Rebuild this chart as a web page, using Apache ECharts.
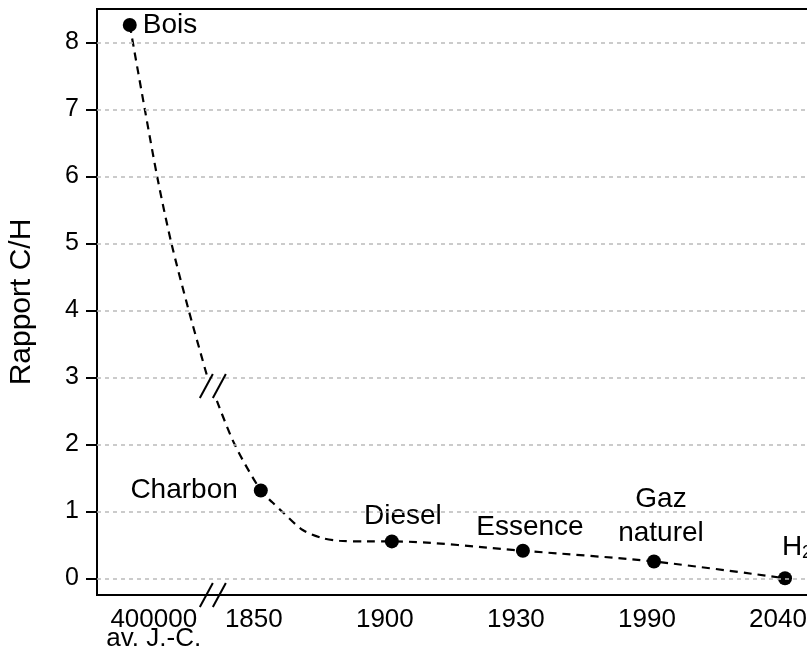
<!DOCTYPE html>
<html>
<head>
<meta charset="utf-8">
<script src="https://cdn.jsdelivr.net/npm/echarts@6/dist/echarts.min.js"></script>
<style>
  html, body { margin: 0; padding: 0; background: #fff; }
  #chart { width: 807px; height: 652px; }
</style>
</head>
<body>
<div id="chart"></div>
<script>
// combustibles, position sur l'axe (échelle coupée), rapport C/H
const fuels = ['Bois', 'Charbon', 'Diesel', 'Essence', 'Gaz\nnaturel', 'H2']
const fuelPos = [0, 1, 2, 3, 4, 5]
const ratio = [8.26, 1.31, 0.55, 0.41, 0.25, 0]
const yearLabels = ['400000\nav. J.-C.', '1850', '1900', '1930', '1990', '2040']
const yTicks = [0, 1, 2, 3, 4, 5, 6, 7, 8]
// courbe en tirets, coupée au niveau de la rupture d'échelle
const curveTop = [[0, 8.26], [0.115, 7.0], [0.214, 5.95], [0.318, 5.0], [0.45, 4.0], [0.59, 3.02]]
const curveBottom = [[0.665, 2.65], [0.8, 2.0], [1, 1.31], [1.09, 1.13], [1.16, 1.0], [1.32, 0.72],
  [1.47, 0.6], [1.6, 0.56], [1.81, 0.55], [2, 0.55], [3, 0.41], [4, 0.25], [5, 0]]
// marques "//" de rupture
const breakMarks = [[0.634, -0.25], [0.634, 2.87]]

const font = "'Liberation Sans', Arial, sans-serif"

// placement des étiquettes de points
const labelOpts = [
  { position: 'right', distance: 6 },
  { position: 'left', distance: 16 },
  { position: 'top', distance: 4, offset: [11, 0] },
  { position: 'top', distance: 3, offset: [7, 0] },
  { position: 'top', distance: 4, offset: [7, 0], lineHeight: 34 },
  { position: 'top', distance: 9, offset: [12, 0], formatter: '{h|H}{s|2}' }
]

const chart = echarts.init(document.getElementById('chart'))

const curveStyle = {
  type: 'line',
  smooth: 0.3,
  symbol: 'none',
  silent: true,
  z: 3,
  lineStyle: { color: '#000', width: 2.2, type: [8, 6] }
}

chart.setOption({
  animation: false,
  textStyle: { fontFamily: font },
  grid: {
    left: 97, top: 9, right: -5, bottom: 57,
    outerBoundsMode: 'none',
    containLabel: false,
    show: true, borderColor: '#000', borderWidth: 2
  },
  xAxis: {
    type: 'value',
    min: -0.25,
    max: 5.206,
    axisLine: { onZero: false, lineStyle: { color: '#000', width: 2 } },
    axisTick: { show: false },
    splitLine: { show: false },
    axisLabel: {
      customValues: fuelPos,
      color: '#000',
      fontSize: 26,
      lineHeight: 19,
      margin: 15,
      hideOverlap: false,
      formatter: v => {
        const i = Math.round(v)
        if (i === 0) {
          return yearLabels[0].split('\n').map(s => '{a|' + s + '}').join('\n')
        }
        return '{b|' + yearLabels[i] + '}'
      },
      rich: {
        a: { fontSize: 26, lineHeight: 19, padding: [0, 0, 0, 48], color: '#000' },
        b: { fontSize: 26, lineHeight: 19, padding: [0, 14, 0, 0], color: '#000' }
      }
    }
  },
  yAxis: {
    type: 'value',
    min: -0.25,
    max: 8.5,
    name: 'Rapport C/H',
    nameLocation: 'middle',
    nameRotate: 90,
    nameGap: 60,
    nameTextStyle: { fontSize: 30, color: '#000' },
    axisLine: { show: true, onZero: false, lineStyle: { color: '#000', width: 2 } },
    axisTick: { show: true, customValues: yTicks, length: 11, lineStyle: { color: '#000', width: 2 } },
    splitLine: { show: false },
    axisLabel: { customValues: yTicks, color: '#000', fontSize: 25, margin: 18 }
  },
  series: [
    {
      type: 'line',
      data: [],
      silent: true,
      z: 1,
      markLine: {
        silent: true,
        symbol: 'none',
        label: { show: false },
        lineStyle: { color: '#bbbbbb', width: 1.5, type: [4, 4] },
        data: yTicks.map(v => ({ yAxis: v }))
      }
    },
    Object.assign({ data: curveTop }, curveStyle),
    Object.assign({ data: curveBottom }, curveStyle),
    {
      type: 'scatter',
      symbol: 'circle',
      symbolSize: 14,
      z: 4,
      itemStyle: { color: '#000', opacity: 1 },
      data: fuelPos.map((x, i) => ({
        value: [x, ratio[i]],
        name: fuels[i],
        label: Object.assign({
          show: true,
          color: '#000',
          fontSize: 28,
          formatter: '{b}',
          rich: {
            h: { fontSize: 28, color: '#000', lineHeight: 30 },
            s: { fontSize: 18, color: '#000', lineHeight: 30, verticalAlign: 'bottom', padding: [10, 0, 0, 0] }
          }
        }, labelOpts[i])
      }))
    },
    {
      type: 'custom',
      data: breakMarks,
      silent: true,
      z: 5,
      renderItem: (params, api) => {
        const c = api.coord([api.value(0), api.value(1)])
        const slash = dx => ({
          type: 'line',
          shape: { x1: c[0] + dx - 6.5, y1: c[1] + 12, x2: c[0] + dx + 6.5, y2: c[1] - 12 },
          style: { stroke: '#000', lineWidth: 2 }
        })
        return { type: 'group', children: [slash(-6.5), slash(6.5)] }
      }
    }
  ]
})
</script>
</body>
</html>
